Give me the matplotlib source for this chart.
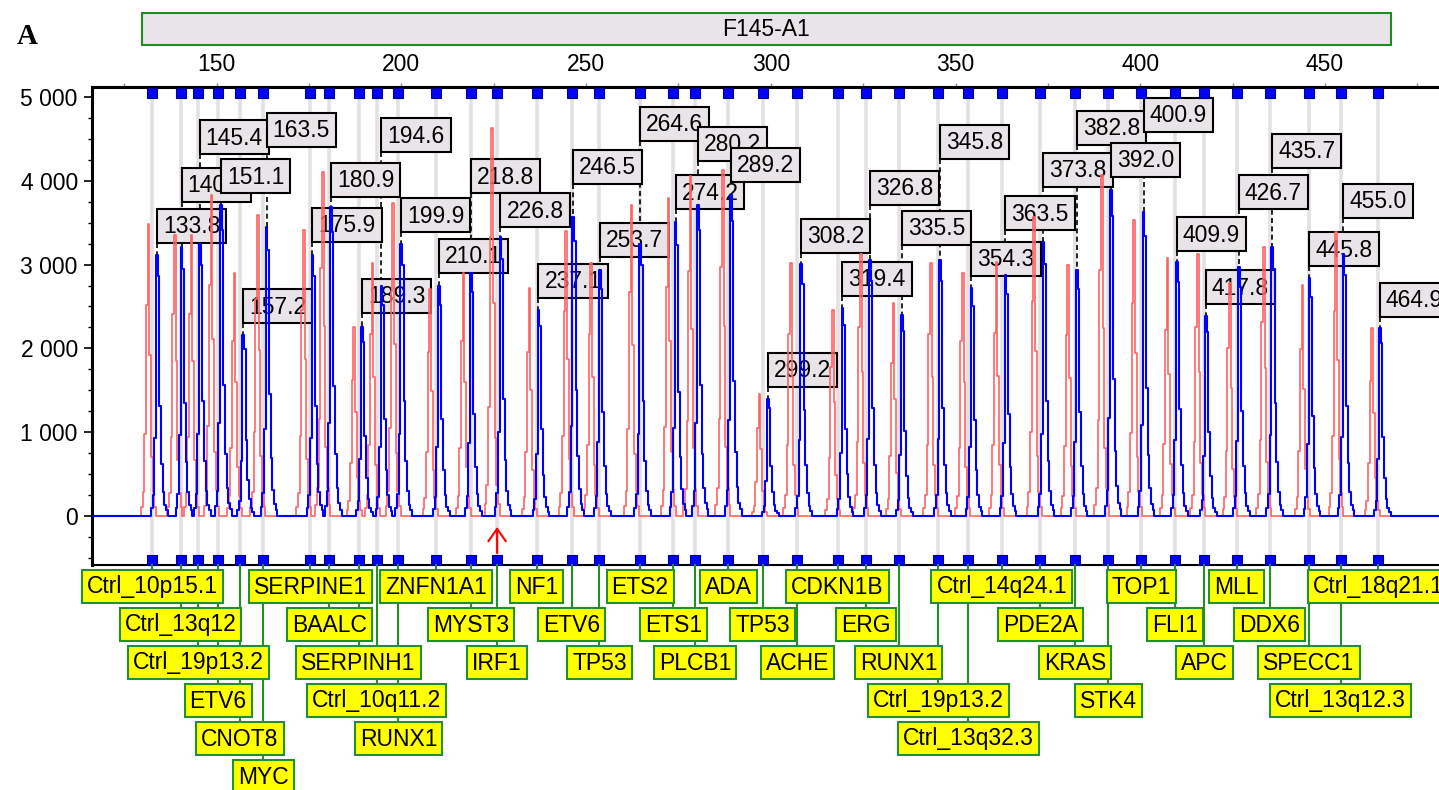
import matplotlib
matplotlib.use("Agg")
import matplotlib.pyplot as plt
import matplotlib.transforms as mtransforms
from matplotlib.patches import Rectangle
from matplotlib.lines import Line2D
from matplotlib.ticker import FixedLocator, MultipleLocator, FuncFormatter

plt.rcParams["font.family"] = ["Liberation Sans", "DejaVu Sans"]

FIG_W, FIG_H, DPI = 1439, 790, 100

sample_name = "F145-A1"
panel_letter = "A"

probe_names = [
    "Ctrl_10p15.1", "Ctrl_13q12", "Ctrl_19p13.2", "ETV6", "CNOT8", "MYC",
    "SERPINE1", "BAALC", "SERPINH1", "Ctrl_10q11.2", "RUNX1",
    "ZNFN1A1", "MYST3", "IRF1",
    "NF1", "ETV6", "TP53",
    "ETS2", "ETS1", "PLCB1",
    "ADA", "TP53", "ACHE",
    "CDKN1B", "ERG", "RUNX1", "Ctrl_19p13.2", "Ctrl_13q32.3",
    "Ctrl_14q24.1", "PDE2A", "KRAS", "STK4",
    "TOP1", "FLI1", "APC",
    "MLL", "DDX6", "SPECC1", "Ctrl_13q12.3",
    "Ctrl_18q21.1",
]

# expected fragment size of each probe (bin centre)
bin_sizes = [
    132.6, 140.2, 145.0, 150.4, 156.3, 162.6, 175.3, 180.5, 188.4, 193.3,
    199.2, 209.4, 218.8, 225.9, 236.6, 246.1, 253.6, 264.6, 273.6, 279.5,
    288.5, 297.8, 307.2, 318.1, 325.8, 334.6, 345.3, 353.5, 362.5, 372.9,
    382.3, 391.4, 400.3, 409.4, 417.3, 426.1, 435.1, 445.7, 454.3, 464.4,
]

# called peaks of the sample (blue)
sample_sizes = [
    133.8, 140.5, 145.4, 151.1, 157.2, 163.5, 175.9, 180.9, 189.3, 194.6,
    199.9, 210.1, 218.8, 226.8, 237.1, 246.5, 253.7, 264.6, 274.2, 280.2,
    289.2, 299.2, 308.2, 319.4, 326.8, 335.5, 345.8, 354.3, 363.5, 373.8,
    382.8, 392.0, 400.9, 409.9, 417.8, 426.7, 435.7, 445.8, 455.0, 464.9,
]
sample_heights = [
    3110, 3210, 3250, 3710, 2160, 3450, 3110, 3690, 2260, 2740,
    3250, 2740, 2900, 3330, 2460, 3570, 2940, 3250, 3510, 3710,
    3830, 1400, 3010, 2480, 3050, 2400, 3050, 2720, 2880, 3270,
    2940, 3890, 3630, 3030, 2380, 2970, 3210, 2840, 3130, 2240,
]

# reference sample (red)
ref_sizes = [
    131.5, 138.7, 143.2, 148.6, 154.8, 161.1, 173.6, 178.7, 187.2, 192.2,
    197.8, 207.8, 216.8, 224.6, 234.7, 244.6, 251.4, 262.3, 272.3, 278.3,
    287.0, 296.9, 305.4, 316.8, 324.4, 333.2, 343.3, 352.0, 361.1, 371.3,
    380.5, 389.6, 398.4, 407.4, 415.6, 424.3, 433.5, 443.9, 453.0, 462.8,
]
ref_heights = [
    3490, 3350, 3350, 3830, 2900, 3590, 3410, 4110, 2250, 3020,
    3730, 2710, 2900, 4630, 2720, 3400, 3020, 3710, 3790, 4060,
    4130, 1450, 3020, 2460, 3130, 2540, 3020, 2900, 3030, 3570,
    2990, 4070, 3530, 3080, 3130, 2780, 3210, 2760, 3390, 2240,
]

flagged_probe = "IRF1"

# ---- layout -------------------------------------------------------------
# signal level of the lower edge of each size label
size_label_levels = [
    3258, 3748, 4321, 3855, 2302, 4405, 3270, 3808, 2422, 4345,
    3389, 2900, 3855, 3449, 2601, 3963, 3091, 4477, 3664, 4238,
    3987, 1538, 3139, 2625, 3712, 3234, 4262, 2864, 3413, 3927,
    4429, 4047, 4584, 3162, 2529, 3664, 4154, 2983, 3557, 2374,
]
# row of each probe name box below the plot
name_rows = [
    1, 2, 3, 4, 5, 6, 1, 2, 3, 4, 5, 1, 2, 3, 1, 2, 3, 1, 2, 3,
    1, 2, 3, 1, 2, 3, 4, 5, 1, 2, 3, 4, 1, 2, 3, 1, 2, 3, 4, 1,
]

XMIN, XMAX = 116.16, 480.88
YMIN, YMAX = -589, 5118
FS = 16.5
STEP = 0.45
# relative sample heights around the apex of one electropherogram peak
BLUE_SHAPE = [(-3, .03), (-2, .08), (-1, .30), (0, 1.0), (1, .92), (2, .42),
              (3, .20), (4, .09), (5, .04), (6, .02)]
RED_SHAPE = [(-4, .03), (-3, .08), (-2, .28), (-1, .72), (0, 1.0), (1, .55),
             (2, .20), (3, .08), (4, .03)]


def build_trace(sizes, heights, shape):
    xs, ys = [XMIN], [0.0]
    for c, h in zip(sizes, heights):
        xs.append(c + (shape[0][0] - 1) * STEP)
        ys.append(0.0)
        for k, r in shape:
            xs.append(c + k * STEP)
            ys.append(h * r)
        xs.append(c + (shape[-1][0] + 1) * STEP)
        ys.append(0.0)
    xs.append(XMAX)
    ys.append(0.0)
    return xs, ys


fig = plt.figure(figsize=(FIG_W / DPI, FIG_H / DPI), dpi=DPI)
ident = mtransforms.IdentityTransform()

left_px, top_px, bottom_px = 91.7, 87.3, 565.0
ax = fig.add_axes([left_px / FIG_W, 1 - bottom_px / FIG_H,
                   1 - left_px / FIG_W, (bottom_px - top_px) / FIG_H])
ax.set_xlim(XMIN, XMAX)
ax.set_ylim(YMIN, YMAX)
ax.set_autoscale_on(False)

for side in ["left", "top"]:
    ax.spines[side].set_linewidth(2.2)
ax.spines["bottom"].set_linewidth(1.5)
ax.spines["right"].set_visible(False)

ax.xaxis.tick_top()
ax.xaxis.set_major_locator(MultipleLocator(50))
ax.xaxis.set_minor_locator(MultipleLocator(25))
ax.tick_params(axis="x", which="both", top=True, bottom=False, labeltop=True,
               labelbottom=False, length=3, width=1, color="#888888",
               labelsize=FS, pad=5)
ax.yaxis.set_major_locator(FixedLocator([0, 1000, 2000, 3000, 4000, 5000]))
ax.yaxis.set_minor_locator(MultipleLocator(250))
ax.yaxis.set_major_formatter(
    FuncFormatter(lambda v, p: f"{int(v):,}".replace(",", " ")))
ax.tick_params(axis="y", which="major", length=6, width=1.2, labelsize=FS, pad=4)
ax.tick_params(axis="y", which="minor", length=3, width=1)

# bins
ax.vlines(bin_sizes, YMIN, YMAX, color="#e4e0e4", lw=2.6, zorder=1)

# traces
rx, ry = build_trace(ref_sizes, ref_heights, RED_SHAPE)
ax.plot(rx, ry, drawstyle="steps-mid", color="#ff6262", lw=1.2, zorder=3)
bx, by = build_trace(sample_sizes, sample_heights, BLUE_SHAPE)
ax.plot(bx, by, drawstyle="steps-mid", color="#0000ff", lw=1.5, zorder=3.5)

# bin markers at top and bottom
blend = mtransforms.blended_transform_factory(ax.transData, ax.transAxes)
for yy in (0.988, 0.0095):
    ax.plot(bin_sizes, [yy] * len(bin_sizes), transform=blend, ls="none",
            marker="s", ms=7, color="#0000ff", mec="#000080", mew=0.8,
            clip_on=False, zorder=6)

renderer = fig.canvas.get_renderer()


def text_width(t):
    return t.get_window_extent(renderer=renderer).width


# size labels above the peaks
for i, (s, h, lev) in enumerate(zip(sample_sizes, sample_heights, size_label_levels)):
    x0, y_peak = ax.transData.transform((s, h))
    _, y_bot = ax.transData.transform((s, lev))
    z = 2 + i * 0.01
    ax.add_artist(Line2D([x0, x0], [y_bot, y_peak], transform=ident,
                         color="black", lw=1.2, ls=(0, (3, 2)), zorder=1.5))
    t = ax.text(0, 0, f"{s:.1f}", transform=ident, ha="center",
                va="center", fontsize=FS, zorder=z + 0.005)
    w = text_width(t) + 12
    hgt = 34
    t.set_position((x0 + w / 2, y_bot + hgt / 2 - 1))
    ax.add_artist(Rectangle((x0, y_bot), w, hgt, transform=ident,
                            fc="#e8e4e8", ec="black", lw=1.5, zorder=z))

# probe name boxes under the plot
spine_y = FIG_H - bottom_px
for i, (name, b, row) in enumerate(zip(probe_names, bin_sizes, name_rows)):
    xc = ax.transData.transform((b, 0))[0]
    top = FIG_H - (570 + 38 * (row - 1))
    fig.add_artist(Line2D([xc, xc], [spine_y, top], transform=ident,
                          color="#229022", lw=1.5, zorder=1))
    t = fig.text(xc, top - 17, name, transform=ident, ha="center",
                 va="center", fontsize=FS, zorder=3 + i * 0.01 + 0.005)
    w = text_width(t) + 10
    fig.add_artist(Rectangle((xc - w / 2, top - 33), w, 33, transform=ident,
                             fc="#ffff00", ec="#229022", lw=1.5,
                             zorder=3 + i * 0.01))

# arrow under the flagged probe
fx = bin_sizes[probe_names.index(flagged_probe)]
ax.annotate("", xy=(fx, -135), xytext=(fx, -446),
            arrowprops=dict(arrowstyle="->,head_length=0.5,head_width=0.35",
                            color="red", lw=1.5, shrinkA=0, shrinkB=0,
                            mutation_scale=18), zorder=6)

# sample header bar
fig.add_artist(Rectangle((142, FIG_H - 45), 1249, 32, transform=ident,
                         fc="#e8e4e8", ec="#1e8c1e", lw=1.5))
fig.text(766, FIG_H - 29, sample_name, transform=ident, ha="center",
         va="center", fontsize=FS)
fig.text(17, FIG_H - 44, panel_letter, transform=ident, ha="left",
         va="baseline", fontsize=21, fontweight="bold",
         family=["Liberation Serif", "DejaVu Serif"])

fig.savefig("out.png", dpi=DPI)
